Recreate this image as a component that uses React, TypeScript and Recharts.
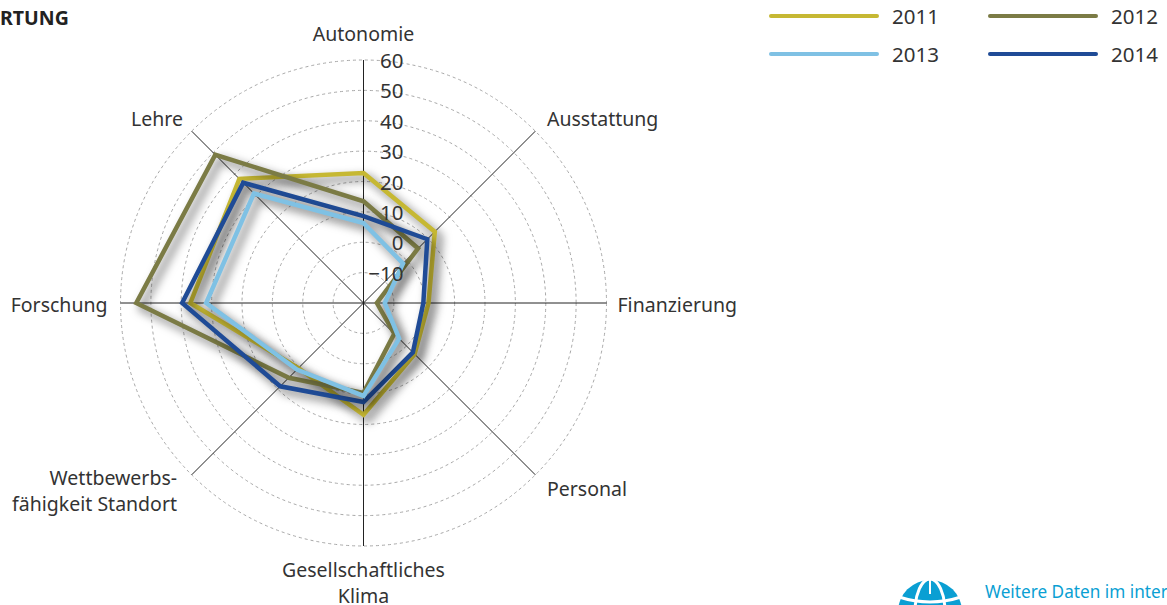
import { RadarChart, Radar, PolarGrid, PolarAngleAxis, PolarRadiusAxis } from 'recharts'

// Kategorien im Uhrzeigersinn, beginnend oben
const KATEGORIEN = [
  'Autonomie',
  'Ausstattung',
  'Finanzierung',
  'Personal',
  'Gesellschaftliches|Klima',
  'Wettbewerbs-|fähigkeit Standort',
  'Forschung',
  'Lehre',
]
const WERTE_2011 = [22.8, 13.2, 1.4, 3.8, 16.8, 10.3, 37, 37.8]
const WERTE_2012 = [13.5, 5.4, -15.6, -5.7, 9.6, 14.8, 54.8, 49]
const WERTE_2013 = [6.3, -1.6, -13, -3.4, 10.6, 11, 31.8, 31]
const WERTE_2014 = [8.6, 9.7, -0.3, 3, 12.6, 18.8, 39.7, 36]
const RADIUS_TICKS = [-20, -10, 0, 10, 20, 30, 40, 50, 60]

const FONT = '"Noto Sans", sans-serif'
const TEXT = '#333333'

const daten = KATEGORIEN.map((k, i) => ({
  kategorie: k,
  y2011: WERTE_2011[i],
  y2012: WERTE_2012[i],
  y2013: WERTE_2013[i],
  y2014: WERTE_2014[i],
}))

const LEGENDE = [
  { label: '2011', cor: '#c6b833', left: 769, top: 16 },
  { label: '2012', cor: '#7b7b45', left: 988, top: 16 },
  { label: '2013', cor: '#7fc1e4', left: 769, top: 54 },
  { label: '2014', cor: '#1f4b96', left: 988, top: 54 },
]

// Lage der Achsenbeschriftung relativ zum Achsenende
const LABEL_OFFSET: Record<number, { dx: number; dy: number; anchor: string }> = {
  0: { dx: 0, dy: 0, anchor: 'middle' },
  1: { dx: 6, dy: 0, anchor: 'start' },
  2: { dx: 3, dy: 9, anchor: 'start' },
  3: { dx: 6, dy: 16, anchor: 'start' },
  4: { dx: 0, dy: 23, anchor: 'middle' },
  5: { dx: -9, dy: 5, anchor: 'end' },
  6: { dx: -5, dy: 9, anchor: 'end' },
  7: { dx: -3, dy: 0, anchor: 'end' },
}

function AngleTick({ x, y, payload, index }: any) {
  const o = LABEL_OFFSET[index] ?? LABEL_OFFSET[0]
  const zeilen = String(payload.value).split('|')
  const baseY = index === 0 ? 41 : y + o.dy
  return (
    <text x={x + o.dx} y={baseY} textAnchor={o.anchor} fontFamily={FONT} fontSize={19.5} fill={TEXT}>
      {zeilen.map((z, i) => (
        <tspan key={z} x={x + o.dx} dy={i === 0 ? 0 : 26}>{z}</tspan>
      ))}
    </text>
  )
}

function RadiusTick({ x, y, payload }: any) {
  if (payload.value === -20) return <g />
  const label = payload.value < 0 ? `\u2212${Math.abs(payload.value)}` : String(payload.value)
  return (
    <text x={x + 40} y={y + 8} textAnchor="end" fontFamily={FONT} fontSize={20.5} fill={TEXT}>
      {label}
    </text>
  )
}

function Globus() {
  return (
    <svg width={70} height={26} style={{ position: 'absolute', left: 895, top: 579 }}>
      <circle cx={35} cy={33} r={32} fill="#0a9fd3" />
      <ellipse cx={35} cy={33} rx={15} ry={33} fill="none" stroke="#fff" strokeWidth={3} />
      <line x1={35} y1={0} x2={35} y2={15} stroke="#fff" strokeWidth={2} />
      <path d="M4 18 Q35 28 66 18" fill="none" stroke="#fff" strokeWidth={3} />
    </svg>
  )
}

export default function App() {
  return (
    <div style={{ position: 'absolute', left: 0, top: 0, width: 1167, height: 605, overflow: 'hidden', background: '#fff' }}>
      <style>{`.recharts-radar-polygon { filter: drop-shadow(5px 5px 5px rgba(0,0,0,0.6)); }`}</style>

      <RadarChart
        width={1167}
        height={605}
        data={daten}
        cx={363.5}
        cy={303}
        outerRadius={243}
        startAngle={90}
        endAngle={-270}
        margin={{ top: 0, right: 0, bottom: 0, left: 0 }}
      >
        {/* Ringe gestrichelt, Speichen durchgezogen */}
        <PolarGrid gridType="circle" radialLines={false} stroke="#a8a8a8" strokeWidth={1} strokeDasharray="3 3" />
        <PolarGrid gridType="circle" polarRadius={[]} stroke="#222" strokeWidth={1} />
        <PolarAngleAxis dataKey="kategorie" tick={AngleTick} tickLine={false} axisLine={false} />
        <PolarRadiusAxis
          angle={90}
          domain={[-20, 60]}
          ticks={RADIUS_TICKS as any}
          tickCount={9}
          axisLine={false}
          tickLine={false}
          tick={RadiusTick}
        />
        <Radar dataKey="y2011" stroke="#c6b833" strokeWidth={4.5} fill="none" isAnimationActive={false} />
        <Radar dataKey="y2012" stroke="#7b7b45" strokeWidth={4.5} fill="none" isAnimationActive={false} />
        <Radar dataKey="y2014" stroke="#1f4b96" strokeWidth={4.5} fill="none" isAnimationActive={false} />
        <Radar dataKey="y2013" stroke="#7fc1e4" strokeWidth={4.5} fill="none" isAnimationActive={false} />
      </RadarChart>

      <div style={{ position: 'absolute', left: 0, top: 4, fontFamily: FONT, fontWeight: 700, fontSize: 19.5, color: '#222' }}>
        RTUNG
      </div>

      {LEGENDE.map(l => (
        <div key={l.label}>
          <div style={{ position: 'absolute', left: l.left, top: l.top - 2, width: 110, height: 4, borderRadius: 2, background: l.cor }} />
          <div style={{ position: 'absolute', left: l.left + 123, top: l.top - 14, fontFamily: FONT, fontSize: 20.5, color: TEXT }}>
            {l.label}
          </div>
        </div>
      ))}

      <Globus />
      <div style={{ position: 'absolute', left: 985, top: 580, fontFamily: FONT, fontSize: 17.2, color: '#0a9fd3', whiteSpace: 'nowrap' }}>
        Weitere Daten im inter
      </div>
    </div>
  )
}
